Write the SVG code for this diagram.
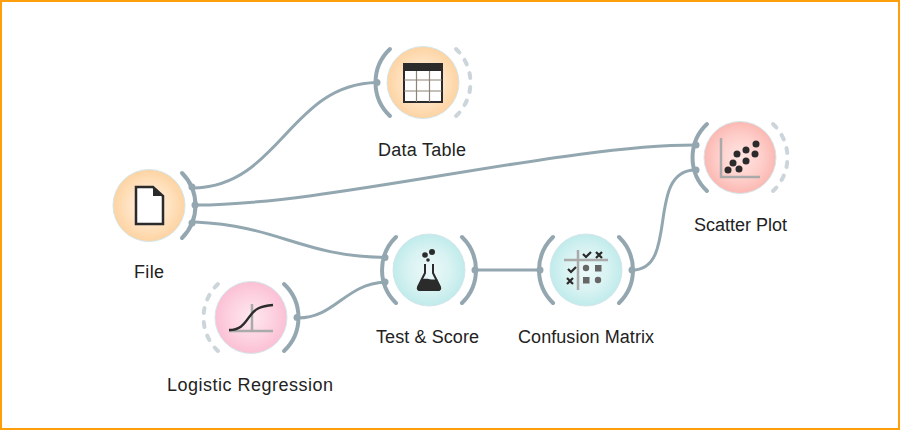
<svg xmlns="http://www.w3.org/2000/svg" width="900" height="430" viewBox="0 0 900 430">
<style>
text{font-family:"Liberation Sans",Arial,sans-serif;font-size:18px;fill:#222;text-anchor:middle}
.link{fill:none;stroke:#93a7b0;stroke-width:3;stroke-linecap:round}
.solid{fill:none;stroke:#94a7b1;stroke-width:4;stroke-linecap:round}
.dash{fill:none;stroke:#ccd5da;stroke-width:4;stroke-linecap:round;stroke-dasharray:5 9}
.halo{stroke:#d5e6ea;stroke-width:1}
.dot{fill:#94a7b1}
.axis{fill:none;stroke:#aaaaaa;stroke-width:2.500}
.blob{fill:#2b2b2b}
</style>
<defs>
<radialGradient id="orange"><stop offset="0" stop-color="#fff3e6"/><stop offset=".6" stop-color="#ffe2c0"/><stop offset="1" stop-color="#fdd3a2"/></radialGradient>
<radialGradient id="red"><stop offset="0" stop-color="#ffe6e3"/><stop offset=".6" stop-color="#fecfcb"/><stop offset="1" stop-color="#fcb8b2"/></radialGradient>
<radialGradient id="teal"><stop offset="0" stop-color="#edf9f9"/><stop offset=".6" stop-color="#d8f2f2"/><stop offset="1" stop-color="#c0ebeb"/></radialGradient>
<radialGradient id="pink"><stop offset="0" stop-color="#fee8ef"/><stop offset=".6" stop-color="#fdd2e0"/><stop offset="1" stop-color="#fbc0d4"/></radialGradient>
</defs>
<rect x="1" y="1" width="898" height="428" fill="#fff" stroke="#ff9e0b" stroke-width="2"/>
<g id="connectors">
<path class="link" d="M195 188C280 185 290 84 377 82.500"/>
<path class="link" d="M196 205C330 205 560 145 695 145"/>
<path class="link" d="M195 222C280 226 300 256 385 257.500"/>
<path class="link" d="M298 318C335 318 345 284 385 282"/>
<path class="link" d="M475 270H540"/>
<path class="link" d="M632 270C680 270 645 171 695 170"/>
</g>
<g id="node-file">
<circle cx="149" cy="205.500" r="36" fill="url(#orange)" class="halo"/>
<path class="solid" d="M182 173A46 46 0 0 1 182 238"/>
<circle class="dot" cx="192" cy="187" r="3.500"/><circle class="dot" cx="195" cy="205" r="3.500"/><circle class="dot" cx="192" cy="223" r="3.500"/>
<path d="M136 187H153L163 196V224H136Z" fill="#fff" stroke="#2b2b2b" stroke-width="2.500"/><path class="blob" d="M153 187L163 196H153Z"/>
<text x="149" y="278" textLength="30">File</text>
</g>
<g id="node-data-table">
<circle cx="423" cy="82.500" r="36" fill="url(#orange)" class="halo"/>
<path class="solid" d="M390 49A46 46 0 0 0 390 116"/>
<circle class="dot" cx="377" cy="82.500" r="3.500"/>
<path class="dash" d="M456 49A46 46 0 0 1 456 116"/>
<rect x="404" y="64" width="38" height="38" fill="#fff" stroke="#2b2b2b" stroke-width="2"/>
<rect x="404" y="64" width="38" height="7" fill="#2b2b2b"/>
<path d="M404 80H442M404 91H442M416.500 71V102M429.500 71V102" fill="none" stroke="#8d8178" stroke-width="1.200"/>
<text x="422" y="156" textLength="88">Data Table</text>
</g>
<g id="node-scatter-plot">
<circle cx="740" cy="157.500" r="36" fill="url(#red)" class="halo"/>
<path class="solid" d="M707 124A46 46 0 0 0 707 191"/>
<circle class="dot" cx="696" cy="145" r="3.500"/><circle class="dot" cx="696" cy="170" r="3.500"/>
<path class="dash" d="M773 124A46 46 0 0 1 773 191"/>
<path class="axis" d="M721 138V177H760"/>
<g class="blob"><circle cx="728" cy="170" r="3.500"/><circle cx="733" cy="163" r="3.500"/><circle cx="739" cy="169" r="3.500"/><circle cx="737" cy="154" r="3.500"/><circle cx="746" cy="161" r="3.500"/><circle cx="746" cy="150" r="3.500"/><circle cx="755" cy="154" r="3.500"/><circle cx="756" cy="144" r="3.500"/></g>
<text x="740.500" y="231" textLength="93">Scatter Plot</text>
</g>
<g id="node-test-score">
<circle cx="429" cy="270" r="36" fill="url(#teal)" class="halo"/>
<path class="solid" d="M396 237A46 46 0 0 0 396 303"/>
<circle class="dot" cx="385" cy="257.500" r="3.500"/><circle class="dot" cx="385" cy="282" r="3.500"/>
<path class="solid" d="M462 237A46 46 0 0 1 462 303"/>
<circle class="dot" cx="475" cy="270" r="3.500"/>
<path d="M425 264V273L418 287Q417 290 420 290H438Q441 290 440 287L433 273V264" fill="none" stroke="#2b2b2b" stroke-width="2"/>
<path class="blob" d="M421 280C426 277 432 281 437 279L440 287Q441 291 438 291H420Q417 291 418 287Z"/>
<circle class="blob" cx="425" cy="255" r="2.800"/><circle class="blob" cx="432" cy="252" r="3"/><circle class="blob" cx="428" cy="260" r="1.800"/>
<text x="427.500" y="343" textLength="103">Test &amp; Score</text>
</g>
<g id="node-confusion-matrix">
<circle cx="586" cy="270" r="36" fill="url(#teal)" class="halo"/>
<path class="solid" d="M553 237A46 46 0 0 0 553 303"/>
<circle class="dot" cx="540" cy="270" r="3.500"/>
<path class="solid" d="M619 237A46 46 0 0 1 619 303"/>
<circle class="dot" cx="632" cy="270" r="3.500"/>
<path class="axis" d="M564 260H608M578 250V290"/>
<path d="M583 254L586 257L591 252M568 269L571 272L576 267" fill="none" stroke="#2b2b2b" stroke-width="2.200"/>
<path d="M596 252L602 258M602 252L596 258M567 278L573 284M573 278L567 284" fill="none" stroke="#2b2b2b" stroke-width="2.200"/>
<circle cx="586" cy="268" r="3.200" fill="#666"/><circle cx="598" cy="280" r="3.200" fill="#666"/>
<rect x="595" y="265" width="6.500" height="6.500" fill="#666"/><rect x="583" y="277" width="6.500" height="6.500" fill="#666"/>
<text x="586" y="343" textLength="136">Confusion Matrix</text>
</g>
<g id="node-logistic-regression">
<circle cx="251" cy="317.500" r="36" fill="url(#pink)" class="halo"/>
<path class="dash" d="M218 284A46 46 0 0 0 218 351"/>
<path class="solid" d="M284 284A46 46 0 0 1 284 351"/>
<circle class="dot" cx="297" cy="317.500" r="3.500"/>
<path class="axis" d="M229 331H273M252 304V331"/>
<path d="M229 330C242 330 245 322 250 316C255 309 260 306 273 305" fill="none" stroke="#2b2b2b" stroke-width="2.500"/>
<text x="250" y="391" textLength="166">Logistic Regression</text>
</g>
</svg>
